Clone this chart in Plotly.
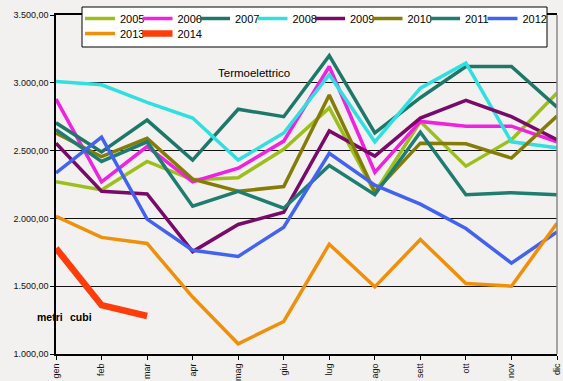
import plotly.graph_objects as go

months = ["gen", "feb", "mar", "apr", "mag", "giu", "lug", "ago", "sett", "ott", "nov", "dic"]

y2005 = [2270, 2210, 2420, 2285, 2300, 2510, 2815, 2190, 2715, 2385, 2580, 2925]
y2006 = [2880, 2270, 2530, 2270, 2370, 2570, 3120, 2340, 2715, 2680, 2680, 2565]
y2007 = [2705, 2490, 2725, 2430, 2805, 2750, 3200, 2630, 2890, 3120, 3120, 2820]
y2008 = [3010, 2985, 2855, 2740, 2430, 2630, 3060, 2565, 2960, 3145, 2565, 2520]
y2009 = [2555, 2200, 2180, 1755, 1955, 2045, 2645, 2460, 2740, 2870, 2750, 2580]
y2010 = [2630, 2455, 2590, 2290, 2200, 2235, 2910, 2195, 2555, 2550, 2445, 2755]
y2011 = [2655, 2420, 2565, 2090, 2200, 2075, 2390, 2175, 2635, 2175, 2190, 2175]
y2012 = [2335, 2600, 1995, 1765, 1720, 1935, 2480, 2245, 2105, 1925, 1670, 1900]
y2013 = [2015, 1860, 1815, 1420, 1075, 1240, 1810, 1495, 1845, 1520, 1500, 1965]
y2014 = [1780, 1360, 1280]

years = ["2005", "2006", "2007", "2008", "2009", "2010", "2011", "2012", "2013", "2014"]
values = [y2005, y2006, y2007, y2008, y2009, y2010, y2011, y2012, y2013, y2014]
colors = ["#9dbf1e", "#ee22e0", "#1e786a", "#30e0e0", "#7a0a6a",
          "#857c08", "#1f7d70", "#4262f0", "#f0900a", "#ff3c0a"]
widths = [3.5, 3.5, 3.5, 3.5, 3.5, 3.5, 3.5, 3.5, 3.5, 6.5]
legend_rows = ["legend", "legend", "legend", "legend", "legend", "legend", "legend",
               "legend", "legend2", "legend2"]
row_ends = ["2012", "2014"]

ytick_vals = [1000, 1500, 2000, 2500, 3000, 3500]
ytick_text = ["1.000,00", "1.500,00", "2.000,00", "2.500,00", "3.000,00", "3.500,00"]

bg = "#f2f1ef"

fig = go.Figure()
for name, vals, col, w, lg in zip(years, values, colors, widths, legend_rows):
    fig.add_trace(go.Scatter(
        x=months[:len(vals)], y=vals, name=name, mode="lines",
        line=dict(color=col, width=w), legend=lg,
        legendwidth=28 if name in row_ends else None,
    ))

W, H = 563, 381
L, R, T, B = 56, 6, 15, 27
pw, ph = W - L - R, H - T - B

def px(x):
    return (x - L) / pw

def py(y):
    return (H - B - y) / ph

leg_common = dict(
    orientation="h", xanchor="left", yanchor="top",
    bgcolor="rgba(0,0,0,0)", borderwidth=0,
    font=dict(size=11, color="black"),
    entrywidth=12.5, entrywidthmode="pixels",
    traceorder="normal",
)

fig.update_layout(
    width=W, height=H,
    margin=dict(l=L, r=R, t=T, b=B, autoexpand=False),
    paper_bgcolor=bg, plot_bgcolor=bg,
    font=dict(family="Liberation Sans, Arial, sans-serif", color="#111"),
    showlegend=True,
    legend=dict(x=px(80), y=py(4), **leg_common),
    legend2=dict(x=px(80), y=py(19), **leg_common),
    xaxis=dict(
        type="category", categoryorder="array", categoryarray=months,
        range=[0, 11], showgrid=False, zeroline=False, automargin=False,
        showline=True, linecolor="black", linewidth=2, mirror=True,
        ticks="outside", ticklen=4, tickcolor="black",
        tickangle=-90, tickfont=dict(size=9, color="#111"),
    ),
    yaxis=dict(
        range=[1000, 3500], tickvals=ytick_vals, ticktext=ytick_text,
        showgrid=True, gridcolor="#111", gridwidth=1, zeroline=False,
        automargin=False,
        showline=True, linecolor="black", linewidth=1.5,
        ticks="outside", ticklen=4, tickcolor="black",
        tickfont=dict(size=9, color="#111"),
    ),
    shapes=[
        dict(type="line", xref="paper", yref="paper", x0=1, x1=1, y0=0, y1=1,
             line=dict(color="#888", width=1.5)),
        dict(type="rect", xref="paper", yref="paper", layer="above",
             x0=px(82), x1=px(547), y0=py(47), y1=py(7),
             fillcolor="white", line=dict(color="black", width=1)),
    ],
    annotations=[
        dict(text="Termoelettrico", xref="paper", yref="paper", x=px(216), y=py(65),
             showarrow=False, font=dict(size=11.5, color="black")),
        dict(text="<b>metri</b>", xref="paper", yref="paper", x=px(35), y=py(325),
             showarrow=False, font=dict(size=10.5, color="black")),
        dict(text="<b>cubi</b>", xref="paper", yref="paper", x=px(68), y=py(325),
             showarrow=False, font=dict(size=10.5, color="black")),
    ],
)

fig.write_html("out.html", config={"displayModeBar": False},
               post_script="document.body.style.margin='0';document.body.style.overflow='hidden';")
